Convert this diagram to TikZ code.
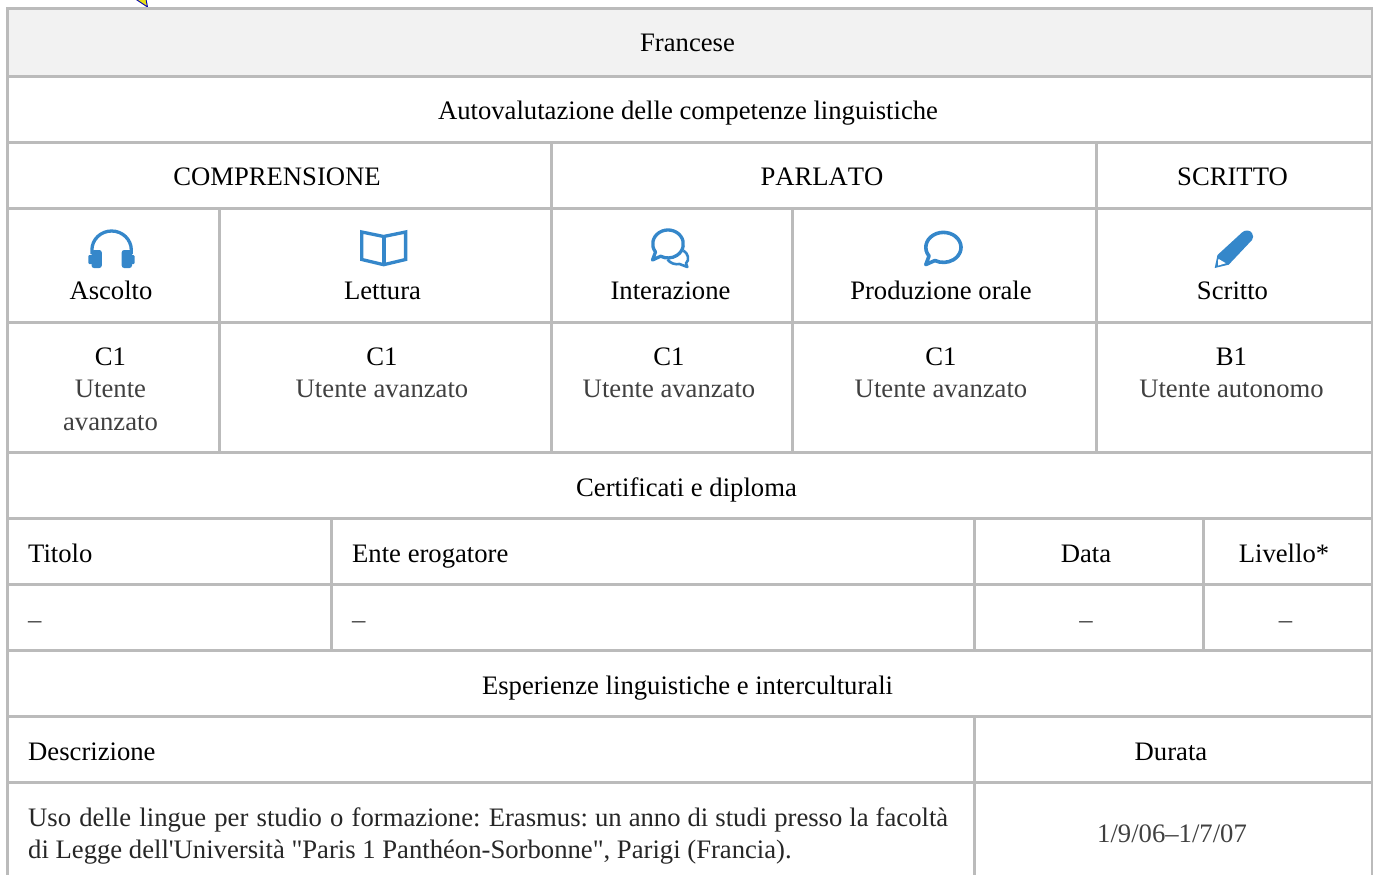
\documentclass[tikz,border=0pt]{standalone}
\usepackage{fontspec}
\setmainfont{Liberation Serif}
\newcommand\straightsq{\XeTeXglyph\XeTeXcharglyph"0027 }
\newcommand\straightdq{\XeTeXglyph\XeTeXcharglyph"0022 }
\newcommand\gapwide{\hskip 0pt plus 1.08fil\relax}
\newcommand\gapslim{\hskip 0pt plus 0.92fil\relax}
\definecolor{gridc}{HTML}{BBBBBB}
\definecolor{headc}{HTML}{F2F2F2}
\definecolor{iconc}{HTML}{3587CA}
\definecolor{softc}{HTML}{404040}
\definecolor{darkc}{HTML}{262626}
\tikzset{
  grid line/.style={draw=gridc,line width=2.8pt},
  cell/.style={inner sep=0pt,font=\fontsize{26.67}{32}\selectfont,text=black,anchor=base},
  soft/.style={cell,text=softc},
  leftcell/.style={cell,anchor=base west},
  softleft/.style={soft,anchor=base west},
  darkleft/.style={cell,text=darkc,anchor=base west},
  icon line/.style={draw=iconc,line width=3.3pt,line join=round},
  icon fill/.style={fill=iconc,draw=none}
}
\begin{document}
\begin{tikzpicture}[x=1pt,y=-1pt]
\useasboundingbox (0,0) rectangle (1374,875);
% stray fragment above the table
\fill[yellow!90!black,draw=blue!70!black,line width=0.9pt] (135.5,-1) -- (147.5,7) -- (146,-1) -- cycle;
% header band
\fill[headc] (8,8.5) rectangle (1372,76);
% grid
\draw[grid line] (7.7,876) -- (7.7,8.5) -- (1372,8.5) -- (1372,876);
\foreach \y in {76.3,142.3,208.3,322.3,452.3,518.3,584.3,650.3,716.3,782.3}
  \draw[grid line] (7.7,\y) -- (1372,\y);
\draw[grid line] (551.5,142.3) -- (551.5,452.3);
\draw[grid line] (1096.5,142.3) -- (1096.5,452.3);
\draw[grid line] (219.5,208.3) -- (219.5,452.3);
\draw[grid line] (792.5,208.3) -- (792.5,452.3);
\draw[grid line] (331.5,518.3) -- (331.5,650.3);
\draw[grid line] (974.5,518.3) -- (974.5,650.3);
\draw[grid line] (1203.5,518.3) -- (1203.5,650.3);
\draw[grid line] (974.5,716.3) -- (974.5,876);
% text
\node[cell] (francese) at (687.5,52) {Francese};
\node[cell] (auto) at (688,119) {Autovalutazione delle competenze linguistiche};
\node[cell] (compr) at (277,185) {COMPRENSIONE};
\node[cell] (parl) at (822,185) {\addfontfeature{Kerning=Off}PARLATO};
\node[cell] (scr) at (1232.5,185) {SCRITTO};
\node[cell] (asc) at (111,299) {Ascolto};
\node[cell] (let) at (382.5,299) {Lettura};
\node[cell] (inter) at (670.5,299) {Interazione};
\node[cell] (prod) at (941,299) {Produzione orale};
\node[cell] (scrt) at (1232.5,299) {Scritto};
\node[cell] (l1) at (110.5,365) {C1};
\node[soft] (u1a) at (110.5,397) {Utente};
\node[soft] (u1b) at (110.5,430) {avanzato};
\node[cell] (l2) at (382,365) {C1};
\node[soft] (u2) at (382,397) {Utente avanzato};
\node[cell] (l3) at (669,365) {C1};
\node[soft] (u3) at (669,397) {Utente avanzato};
\node[cell] (l4) at (941,365) {C1};
\node[soft] (u4) at (941,397) {Utente avanzato};
\node[cell] (l5) at (1231.5,365) {B1};
\node[soft] (u5) at (1231.5,397) {Utente autonomo};
\node[cell] (cert) at (686.5,496) {Certificati e diploma};
\node[leftcell] (tit) at (28,562) {Titolo};
\node[leftcell] (ente) at (352,562) {Ente erogatore};
\node[cell] (data) at (1086,562) {Data};
\node[cell] (liv) at (1284,562) {Livello*};
\node[softleft] (d1) at (28,628) {–};
\node[softleft] (d2) at (352,628) {–};
\node[soft] (d3) at (1086,628) {–};
\node[soft] (d4) at (1285.5,628) {–};
\node[cell] (esp) at (687.5,694) {Esperienze linguistiche e interculturali};
\node[leftcell] (desc) at (28,760) {Descrizione};
\node[cell] (dur) at (1171,760) {Durata};
\node[darkleft] (uso) at (28,826) {\hbox to 920pt{Uso\gapwide delle\gapwide lingue\gapwide per\gapwide studio\gapwide o\gapwide formazione:\gapwide Erasmus:\gapslim un\gapslim anno\gapslim di\gapslim studi\gapslim presso\gapslim la\gapslim facoltà}};
\node[darkleft] (uso2) at (28,858) {di Legge dell\straightsq Università \straightdq Paris 1 Panthéon-Sorbonne\straightdq, Parigi (Francia).};
\node[soft] (per) at (1172,842) {1/9/06–1/7/07};
% headphones
\draw[icon line] (91.9,254) -- (91.9,250) arc[start angle=180,end angle=360,x radius=19.7,y radius=19] -- (131.3,254);
\fill[icon fill,rounded corners=2.5pt] (91.5,250) rectangle (101.8,268);
\fill[icon fill,rounded corners=2.5pt] (121.7,250) rectangle (132,268);
\fill[icon fill,rounded corners=1pt] (88.3,255) rectangle (93,264);
\fill[icon fill,rounded corners=1pt] (130.5,255) rectangle (134.5,264);
% book
\draw[icon line,line join=miter] (383.7,236.5) -- (361.8,232) -- (361.8,259.5) -- (383.7,264.7) -- (405.6,259.5) -- (405.6,232) -- cycle;
\draw[iconc,line width=4.4pt] (383.7,236) -- (383.7,265);
% double bubble
\draw[icon line] (652.5,260) -- (655.5,252) arc[start angle=145,end angle=479,x radius=15.3,y radius=14] -- cycle;
\draw[icon line,line width=2.6pt] (683.3,250.5) .. controls (688,253) and (690,260) .. (686,263.3) -- (687.3,267) -- (679.5,264) .. controls (675,265) and (670,263) .. (667.5,259.5);
% single bubble
\draw[icon line,line width=3.6pt] (925.8,264.6) -- (929,256) arc[start angle=145,end angle=479,x radius=17.6,y radius=15] -- cycle;
% pencil
\fill[icon fill] (1217.5,255) -- (1242,232.5) .. controls (1245,229.5) and (1250,230) .. (1252,233) .. controls (1253.5,235.5) and (1253.5,238) .. (1252,240) -- (1228.7,264.7) -- (1214.7,268) -- cycle;
\fill[white] (1218.3,258.8) -- (1225.8,263.2) -- (1218,265.6) -- cycle;
\end{tikzpicture}
\end{document}
